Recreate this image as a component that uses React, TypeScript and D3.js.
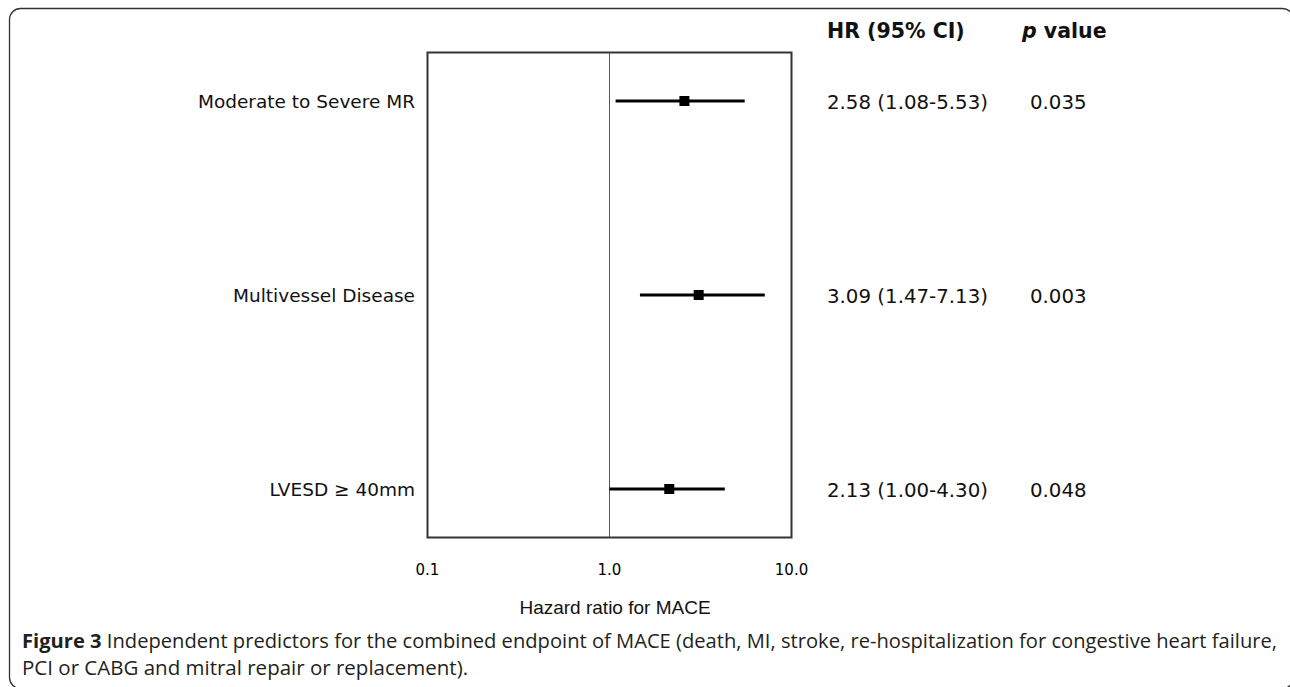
import React from "react";
import * as d3 from "d3";

const categories = ["Moderate to Severe MR", "Multivessel Disease", "LVESD ≥ 40mm"];
const hr = [2.58, 3.09, 2.13];
const lower = [1.08, 1.47, 1.0];
const upper = [5.53, 7.13, 4.3];
const hrText = ["2.58 (1.08-5.53)", "3.09 (1.47-7.13)", "2.13 (1.00-4.30)"];
const pText = ["0.035", "0.003", "0.048"];
const ticks = [0.1, 1, 10];
const tickLabels = ["0.1", "1.0", "10.0"];

const W = 1290;
const H = 687;

export default function App() {
  const x = d3.scaleLog().domain([0.1, 10]).range([427.5, 791.5]);
  const y = d3.scalePoint<string>().domain(categories).range([101, 489]);
  const top = 52.5;
  const bottom = 537.5;
  const verdana = "'DejaVu Sans', Verdana, sans-serif";
  const capFont = "'Open Sans', 'Noto Sans', sans-serif";
  return (
    <svg width={W} height={H} style={{ position: "absolute", left: 0, top: 0, background: "#fff" }}>
      <rect x={9.5} y={8.5} width={1284} height={680} rx={11} fill="none" stroke="#333" strokeWidth={1.3} />
      {/* plot box */}
      <rect x={x(0.1)} y={top} width={x(10) - x(0.1)} height={bottom - top} fill="none" stroke="#333" strokeWidth={2} />
      <line x1={x(1)} x2={x(1)} y1={top} y2={bottom} stroke="#555" strokeWidth={1} />
      {/* headers */}
      <text x={827} y={38} fontFamily={verdana} fontWeight="bold" fontSize={20.5} fill="#111">HR (95% CI)</text>
      <text x={1022} y={38} fontFamily={verdana} fontWeight="bold" fontSize={20.5} fill="#111">
        <tspan fontStyle="italic">p</tspan> value
      </text>
      {categories.map((c, i) => {
        const cy = y(c)!;
        return (
          <g key={c}>
            <text x={415} y={cy + 7} textAnchor="end" fontFamily={verdana} fontSize={18.5} fill="#111">{c}</text>
            <line x1={x(lower[i])} x2={x(upper[i])} y1={cy} y2={cy} stroke="#000" strokeWidth={3} />
            <rect x={x(hr[i]) - 5} y={cy - 5} width={10} height={10} fill="#000" />
            <text x={827} y={cy + 8} fontFamily={verdana} fontSize={19.8} fill="#111">{hrText[i]}</text>
            <text x={1030} y={cy + 8} fontFamily={verdana} fontSize={19.8} fill="#111">{pText[i]}</text>
          </g>
        );
      })}
      {ticks.map((t, i) => (
        <text key={t} x={x(t)} y={575} textAnchor="middle" fontFamily={verdana} fontSize={15} fill="#000">{tickLabels[i]}</text>
      ))}
      <text x={615} y={614} textAnchor="middle" fontFamily="'Liberation Sans', Arial, sans-serif" fontSize={19} fill="#111">Hazard ratio for MACE</text>
      <text x={22} y={648} fontFamily={capFont} fontSize={20} fill="#231f20" textLength={1255} lengthAdjust="spacingAndGlyphs">
        <tspan fontWeight="bold">Figure 3</tspan> Independent predictors for the combined endpoint of MACE (death, MI, stroke, re-hospitalization for congestive heart failure,
      </text>
      <text x={22} y={675} fontFamily={capFont} fontSize={20.5} fill="#231f20">PCI or CABG and mitral repair or replacement).</text>
    </svg>
  );
}
